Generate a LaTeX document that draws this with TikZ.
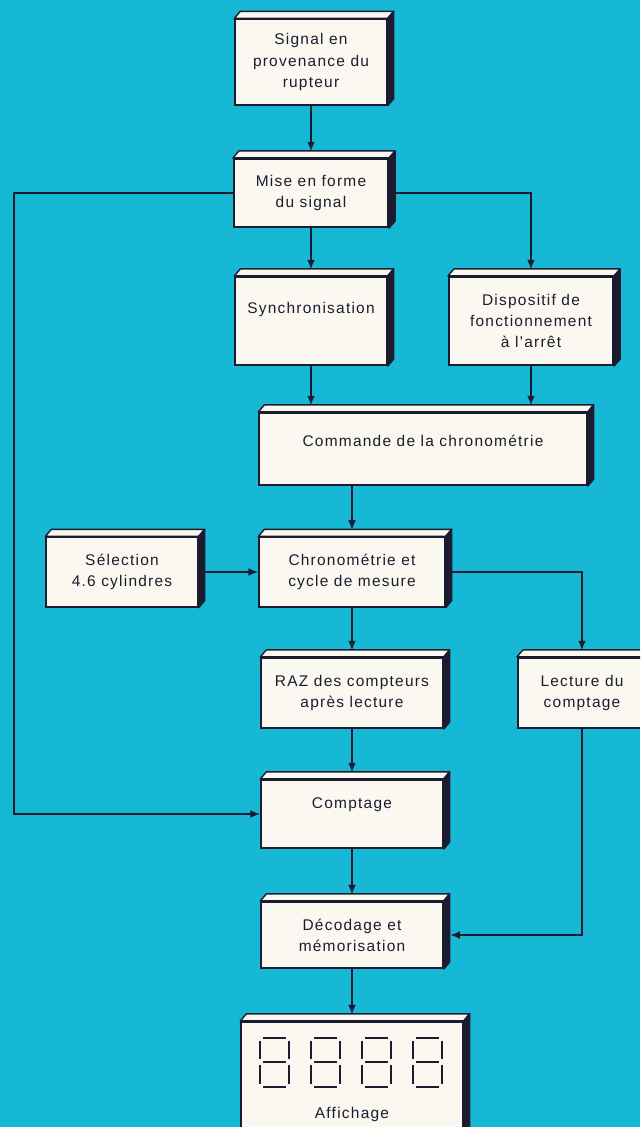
\documentclass[tikz,border=0pt]{standalone}
\usepackage{fontspec}
\setmainfont{Liberation Sans}[LetterSpace=8]
\usetikzlibrary{arrows.meta}
\definecolor{fond}{RGB}{22,184,214}
\definecolor{papier}{RGB}{250,248,240}
\definecolor{encre}{RGB}{28,28,48}
\begin{document}
\begin{tikzpicture}[
    x=0.025cm, y=-0.025cm,
    bloc/.style={rectangle, draw=encre, line width=1.5pt, fill=papier, align=center, inner sep=2pt, font=\fontsize{11}{15}\selectfont\color{encre}},
    dessus/.style={fill=papier, draw=encre, line width=1pt, line join=round},
    flanc/.style={fill=encre, draw=encre, line width=1pt, line join=round},
    lien/.style={draw=encre, line width=1.25pt},
    fleche/.style={lien, -{Latex[length=7pt,width=5.5pt]}, shorten >=4.5pt},
    entree/.style={lien, -{Latex[length=7pt,width=5.5pt]}},
    segment/.style={draw=encre, line width=1.5pt}
]

% Cadre et fond
\useasboundingbox (0,0) rectangle (640,1127);
\clip (0,0) rectangle (640,1127);
\fill[fond] (0,0) rectangle (640,1127);

% Blocs
\node[bloc, minimum width=3.78cm, minimum height=2.13cm] (signal) at (311,62) {Signal en\\provenance du\\rupteur};
\node[bloc, minimum width=3.85cm, minimum height=1.70cm] (mise) at (311,193) {Mise en forme\\du signal};
\node[bloc, minimum width=3.78cm, minimum height=2.20cm, text depth=18pt] (synchro) at (311,321) {Synchronisation};
\node[bloc, minimum width=4.10cm, minimum height=2.20cm] (dispositif) at (531,321) {Dispositif de\\fonctionnement\\à l'arrêt};
\node[bloc, minimum width=8.18cm, minimum height=1.80cm, text depth=11pt] (commande) at (423,449) {Commande de la chronométrie};
\node[bloc, minimum width=4.63cm, minimum height=1.73cm] (chrono) at (352,572) {Chronométrie et\\cycle de mesure};
\node[bloc, minimum width=3.78cm, minimum height=1.73cm] (selection) at (122,572) {Sélection\\4.6 cylindres};
\node[bloc, minimum width=4.53cm, minimum height=1.75cm] (raz) at (352,693) {RAZ des compteurs\\après lecture};
\node[bloc, minimum width=3.20cm, minimum height=1.75cm] (lecture) at (582,693) {Lecture du\\comptage};
\node[bloc, minimum width=4.53cm, minimum height=1.70cm, text depth=15pt] (comptage) at (352,814) {Comptage};
\node[bloc, minimum width=4.53cm, minimum height=1.65cm] (decodage) at (352,935) {Décodage et\\mémorisation};
\node[bloc, minimum width=5.53cm, minimum height=2.95cm,
      label={[font=\fontsize{11}{15}\selectfont\color{encre}, yshift=-24pt]center:Affichage}] (affichage) at (352,1081) {};

% Relief des blocs
\foreach \b in {signal, mise, synchro, dispositif, commande, chrono, selection, raz, lecture, comptage, decodage, affichage} {
    \filldraw[dessus] (\b.north west) -- ++(6,-7) -- ([shift={(6,-7)}]\b.north east) -- (\b.north east) -- cycle;
    \filldraw[flanc] (\b.north east) -- ([shift={(6,-7)}]\b.north east) -- ([shift={(6,-7)}]\b.south east) -- (\b.south east) -- cycle;
}

% Afficheur 7 segments
\foreach \x in {260,311,362,413} {
    \draw[segment] (\x+3,1038) -- (\x+26,1038);
    \draw[segment] (\x+3,1062) -- (\x+26,1062);
    \draw[segment] (\x+3,1087) -- (\x+26,1087);
    \draw[segment] (\x,1041) -- (\x,1059);
    \draw[segment] (\x+29,1041) -- (\x+29,1059);
    \draw[segment] (\x,1065) -- (\x,1084);
    \draw[segment] (\x+29,1065) -- (\x+29,1084);
}

% Connexions
\coordinate (retour) at (14,193);
\draw[fleche] (signal) -- (mise);
\draw[fleche] (mise) -- (synchro);
\draw[fleche] (mise.east) -| (dispositif.north);
\draw[entree] (mise.west) -- (retour) |- (comptage.west);
\draw[fleche] (synchro.south) -- (synchro.south |- commande.north);
\draw[fleche] (dispositif.south) -- (dispositif.south |- commande.north);
\draw[fleche] (chrono.north |- commande.south) -- (chrono.north);
\draw[entree] (selection.east) -- (chrono.west);
\draw[fleche] (chrono.east) -| (lecture.north);
\draw[fleche] (chrono) -- (raz);
\draw[fleche] (raz) -- (comptage);
\draw[fleche] (comptage) -- (decodage);
\draw[fleche] (lecture.south) |- (decodage.east);
\draw[fleche] (decodage) -- (affichage);

\end{tikzpicture}
\end{document}
